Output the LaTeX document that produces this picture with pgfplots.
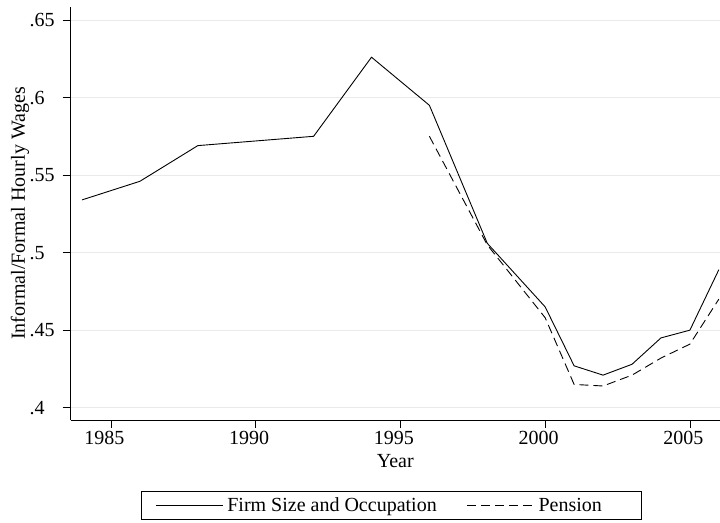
\documentclass[border=0pt]{standalone}
\usepackage{fontspec}
\setmainfont{Liberation Serif}
\usepackage{pgfplots}
\pgfplotsset{compat=1.18}
\definecolor{gridgray}{HTML}{EAEAEA}

\begin{document}
\begin{tikzpicture}[font=\fontsize{20bp}{24bp}\selectfont]
\begin{axis}[
    at={(0bp,0bp)}, anchor=south west,
    scale only axis, width=649.3bp, height=413bp,
    xmin=1983.608, xmax=2006.04,
    ymin=0.39207, ymax=0.65838,
    axis x line*=bottom, axis y line*=left,
    axis line style={black, line width=0.9bp},
    tick align=outside, major tick length=8bp,
    tick style={black, line width=0.8bp},
    xtick={1985,1990,1995,2000,2005},
    xticklabels={1985,1990,1995,2000,2005},
    ytick={0.4,0.45,0.5,0.55,0.6,0.65},
    yticklabels={.4,.45,.5,.55,.6,.65},
    xticklabel style={xshift=-6.5bp},
    yticklabel style={anchor=west, xshift=-33.4bp, inner xsep=0pt},
    ymajorgrids, grid style={gridgray, line width=0.8bp},
    xlabel={Year},
    xlabel style={at={(axis description cs:0.5,-0.1162)}, anchor=base},
    ylabel={Informal/Formal Hourly Wages},
    ylabel style={at={(axis description cs:-0.0781,0.5)}, anchor=center, rotate=0},
    legend columns=2,
    legend style={at={(axis description cs:0.4936,-0.1719)}, anchor=north,
        draw=black, line width=0.8bp, inner xsep=14bp, inner ysep=4.5bp,
        /tikz/every odd column/.append style={column sep=2bp},
        /tikz/every even column/.append style={column sep=28bp}},
    legend image code/.code={\draw[#1] (0bp,0bp) -- (67bp,0bp);},
]
\addplot[black, line width=0.9bp] coordinates {
    (1984,0.534) (1986,0.546) (1988,0.569) (1992,0.575) (1994,0.626)
    (1996,0.595) (1998,0.506) (2000,0.465) (2001,0.427) (2002,0.421)
    (2003,0.428) (2004,0.445) (2005,0.450) (2006,0.489)
};
\addlegendentry{Firm Size and Occupation}
\addplot[black, line width=0.9bp, dash pattern=on 9bp off 5bp] coordinates {
    (1996,0.575) (1998,0.505) (2000,0.458) (2001,0.415) (2002,0.414)
    (2003,0.421) (2004,0.432) (2005,0.441) (2006,0.470)
};
\addlegendentry{Pension\rule{23bp}{0pt}}
\end{axis}
\pgfresetboundingbox
\path (-70.7bp,-103bp) rectangle (649.3bp,420bp);
\end{tikzpicture}
\end{document}
